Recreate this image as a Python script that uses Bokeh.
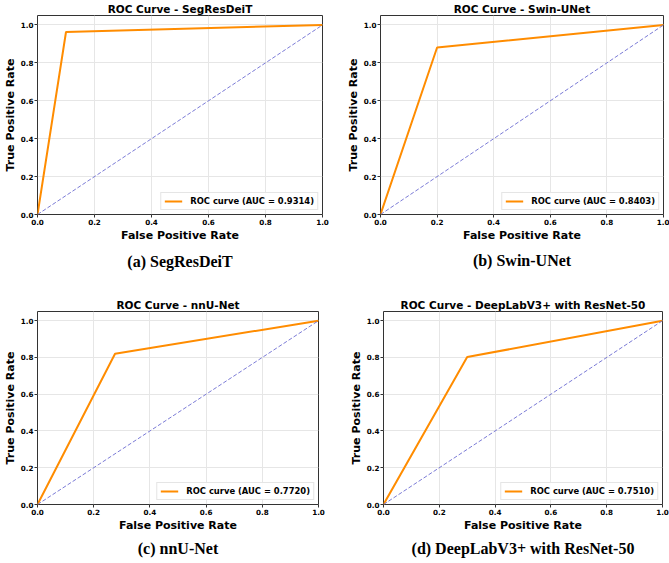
from bokeh.plotting import figure
from bokeh.layouts import column, row
from bokeh.models import (Range1d, FixedTicker, PrintfTickFormatter, Legend,
                          LegendItem, Title)
from bokeh.embed import file_html
from bokeh.resources import INLINE

# ROC operating points (FPR, TPR) for each segmentation model
models = ["SegResDeiT", "Swin-UNet", "nnU-Net", "DeepLabV3+ with ResNet-50"]
captions = ["(a) SegResDeiT", "(b) Swin-UNet", "(c) nnU-Net",
            "(d) DeepLabV3+ with ResNet-50"]
fpr_a = [0.0, 0.100, 1.0]
tpr_a = [0.0, 0.963, 1.0]
fpr_b = [0.0, 0.200, 1.0]
tpr_b = [0.0, 0.881, 1.0]
fpr_c = [0.0, 0.276, 1.0]
tpr_c = [0.0, 0.820, 1.0]
fpr_d = [0.0, 0.300, 1.0]
tpr_d = [0.0, 0.802, 1.0]
auc_values = ["0.9314", "0.8403", "0.7720", "0.7510"]
chance_x = [0.0, 1.0]
chance_y = [0.0, 1.0]
tick_values = [0.0, 0.2, 0.4, 0.6, 0.8, 1.0]

SANS = "DejaVu Sans"
SERIF = "Liberation Serif"


def make_panel(name, caption, fpr, tpr, auc, width, height, borders,
               caption_gap):
    left, right, top, bottom = borders
    p = figure(width=width, height=height, output_backend="svg",
               toolbar_location=None,
               x_range=Range1d(0, 1.0), y_range=Range1d(0, 1.05),
               min_border_left=left, min_border_right=right,
               min_border_top=top, min_border_bottom=bottom,
               background_fill_color="white", border_fill_color="white",
               outline_line_color="#333333", outline_line_width=1)
    p.title.text = f"ROC Curve - {name}"
    p.title.text_font = SANS
    p.title.text_font_size = "10.5px"
    p.title.text_font_style = "bold"
    p.title.text_color = "black"
    p.title.align = "center"
    p.title.standoff = 1
    p.title.offset = 0

    for ax in (p.xaxis[0], p.yaxis[0]):
        ax.ticker = FixedTicker(ticks=tick_values)
        ax.formatter = PrintfTickFormatter(format="%.1f")
        ax.major_label_text_font = SANS
        ax.major_label_text_font_size = "7.2px"
        ax.major_label_text_font_style = "bold"
        ax.major_label_text_color = "black"
        ax.axis_label_text_font = SANS
        ax.axis_label_text_font_size = "11px"
        ax.axis_label_text_font_style = "bold"
        ax.axis_label_text_color = "black"
        ax.major_tick_out = 3
        ax.major_tick_in = 0
        ax.minor_tick_out = 0
        ax.minor_tick_in = 0
        ax.axis_line_color = None
        ax.major_tick_line_color = "#333333"
        ax.major_label_standoff = 1
        ax.axis_label_standoff = 1
    p.xaxis.axis_label = "False Positive Rate"
    p.yaxis.axis_label = "True Positive Rate"

    p.xgrid.ticker = FixedTicker(ticks=tick_values)
    p.ygrid.ticker = FixedTicker(ticks=tick_values)
    p.grid.grid_line_color = "#e6e6e6"
    p.grid.grid_line_width = 1

    roc = p.line(fpr, tpr, line_color="#FF8C00", line_width=2)
    p.line(chance_x, chance_y, line_color="#7b7bd6", line_width=1,
           line_dash="4 2")

    legend = Legend(items=[LegendItem(label=f"ROC curve (AUC = {auc})",
                                      renderers=[roc])],
                    location="bottom_right", margin=4, padding=3,
                    spacing=0, glyph_width=18, glyph_height=10,
                    label_height=10, label_standoff=8,
                    label_text_font=SANS, label_text_font_size="8.4px",
                    label_text_font_style="bold",
                    label_text_color="black",
                    border_line_color="#cccccc", border_line_width=1,
                    background_fill_color="white", background_fill_alpha=0.9)
    p.add_layout(legend, "center")

    p.add_layout(Title(text=caption, align="center", text_font=SERIF,
                       text_font_size="16px", text_font_style="bold",
                       text_color="black", standoff=caption_gap), "below")
    return p


pa = make_panel(models[0], captions[0], fpr_a, tpr_a, auc_values[0],
                334, 280, (30, 12, 11, 62), 12)
pb = make_panel(models[1], captions[1], fpr_b, tpr_b, auc_values[1],
                335, 280, (46, 6, 14, 66), 11)
pc = make_panel(models[2], captions[2], fpr_c, tpr_c, auc_values[2],
                334, 283, (34, 16, 27, 59), 6)
pd = make_panel(models[3], captions[3], fpr_d, tpr_d, auc_values[3],
                335, 283, (49, 7, 31, 59), 6)

layout = column(row(pa, pb, spacing=0), row(pc, pd, spacing=0), spacing=0)

open("out.html", "w").write(file_html(layout, INLINE))
